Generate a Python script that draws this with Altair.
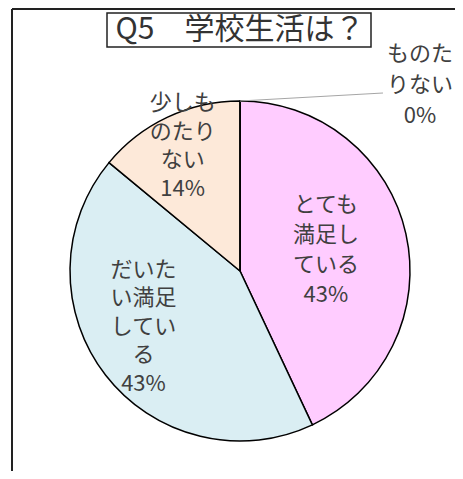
import altair as alt
import pandas as pd

# ---- data ----
categories = ["とても満足している", "だいたい満足している", "少しものたりない", "ものたりない"]
label_lines = ["とても\n満足し\nている", "だいた\nい満足\nしてい\nる", "少しも\nのたり\nない", "ものた\nりない"]
percents = [43, 43, 14, 0]
colors = ["#FFCCFF", "#DAEEF3", "#FDE9D9", "#EBF1DE"]
title_text = "Q5\u3000学校生活は？"

df = pd.DataFrame({
    "cat": categories,
    "value": percents,
    "idx": list(range(len(categories))),
    "label": [l + "\n" + f"{p}%" for l, p in zip(label_lines, percents)],
})

FONT = "Noto Sans CJK JP"
TXT = "#404040"
CX, CY, R = 232, 263, 170
W, H = 447, 463
FS = 22

arc = alt.Chart(df).mark_arc(outerRadius=R, stroke="#000000", strokeWidth=1.5).encode(
    theta=alt.Theta("value:Q", stack=True),
    color=alt.Color("cat:N", scale=alt.Scale(domain=categories, range=colors), legend=None),
    order=alt.Order("idx:Q"),
    x=alt.value(CX),
    y=alt.value(CY),
)

text_base = alt.Chart(df).transform_window(
    cum="sum(value)", sort=[alt.SortField("idx")], frame=[None, 0]
).transform_calculate(mid="datum.cum - datum.value / 2")

# label placement (radius, dx, dy of block centre, line height) per slice
placement = {0: (88, 0, -2, 30), 1: (112, -8, -13, 28.5), 2: (137, 1, -1, 28.5)}
text_layers = []
for i, (r, dx, dy, lh) in placement.items():
    n = df.loc[i, "label"].count("\n") + 1
    text_layers.append(
        text_base.transform_filter(f"datum.idx == {i}").mark_text(
            radius=r, dx=dx, dy=dy - (n - 1) * lh / 2, lineBreak="\n", font=FONT,
            fontSize=FS, lineHeight=lh, color=TXT, align="center", baseline="middle",
        ).encode(
            theta=alt.Theta("mid:Q"),
            text="label:N",
            x=alt.value(CX),
            y=alt.value(CY),
        )
    )

zero_label = alt.Chart(df).transform_filter("datum.idx == 3").mark_text(
    lineBreak="\n", font=FONT, fontSize=FS, lineHeight=31, color=TXT,
    align="center", baseline="middle",
).encode(text="label:N", x=alt.value(412), y=alt.value(46))

leader = alt.Chart(df).transform_filter("datum.idx == 3").mark_rule(
    color="#A6A6A6", strokeWidth=1.2
).encode(x=alt.value(CX), y=alt.value(CY - R), x2=alt.value(375), y2=alt.value(85))

title_df = pd.DataFrame({"t": [title_text]})
title_box = alt.Chart(title_df).mark_rect(
    fill="white", stroke="#222222", strokeWidth=1.5
).encode(x=alt.value(99), x2=alt.value(363), y=alt.value(5), y2=alt.value(39))
title = alt.Chart(title_df).mark_text(
    font=FONT, fontSize=30, color="#333333", align="center", baseline="middle"
).encode(text="t:N", x=alt.value(232), y=alt.value(22))

frame_v = alt.Chart(title_df).mark_rule(color="#222222", strokeWidth=2).encode(
    x=alt.value(4), x2=alt.value(4), y=alt.value(1), y2=alt.value(H)
)
frame_h = alt.Chart(title_df).mark_rule(color="#222222", strokeWidth=2).encode(
    x=alt.value(4), x2=alt.value(W), y=alt.value(1), y2=alt.value(1)
)

chart = alt.layer(
    frame_v, frame_h, arc, *text_layers, leader, zero_label, title_box, title
).properties(
    width=W, height=H, autosize=alt.AutoSizeParams(type="none"), padding=0,
    background="white",
).configure_view(stroke=None)

chart.save("out.html", embed_options={"renderer": "svg", "actions": False})
